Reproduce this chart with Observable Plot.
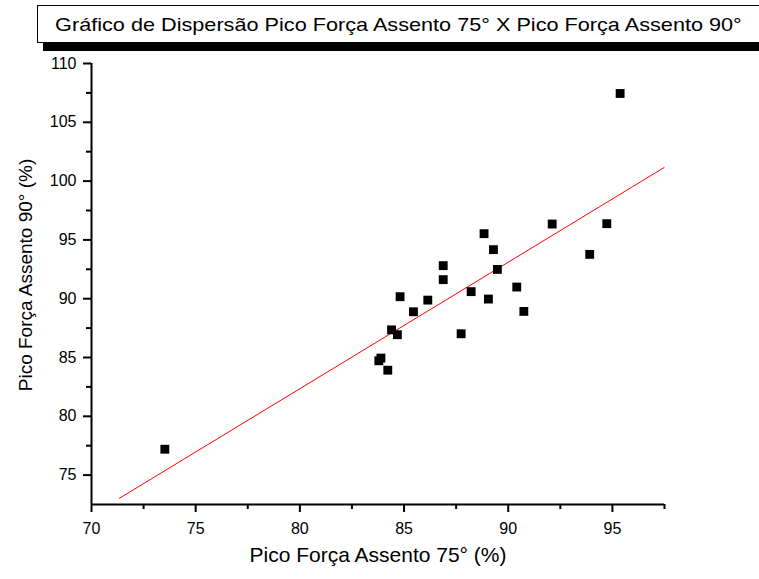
<!DOCTYPE html>
<html><head><meta charset="utf-8">
<script src="https://cdn.jsdelivr.net/npm/d3@7"></script>
<script src="https://cdn.jsdelivr.net/npm/@observablehq/plot@0.6"></script>
<style>
body{margin:0;background:#fff;font-family:"Liberation Sans",Arial,sans-serif;}
#wrap{position:relative;width:759px;height:579px;overflow:hidden;}
#title{position:absolute;left:37px;top:5px;width:730px;height:38px;border:1px solid #000;background:#fff;box-sizing:border-box;font-size:19px;line-height:37px;box-shadow:6px 8px 0 #000;color:#000;}
#title span{position:absolute;left:0;width:722px;text-align:center;transform:scaleX(1.14);transform-origin:365px 50%;}
</style></head>
<body>
<div id="wrap"><div id="chart"></div><div id="title"><span id="tt"></span></div></div>
<script>
const titleText = "Gráfico de Dispersão Pico Força Assento 75° X Pico Força Assento 90°";
const xLabel = "Pico Força Assento 75° (%)";
const yLabel = "Pico Força Assento 90° (%)";
const x75 = [73.52, 83.79, 83.89, 84.22, 84.40, 84.68, 84.81, 85.45, 86.14, 86.88, 86.88, 87.74, 88.22, 88.84, 89.05, 89.29, 89.48, 90.41, 90.75, 92.11, 93.91, 94.73, 95.37];
const y90 = [77.2, 84.72, 84.95, 83.92, 87.35, 86.94, 90.17, 88.89, 89.88, 92.81, 91.62, 87.02, 90.60, 95.53, 89.97, 94.17, 92.49, 90.99, 88.92, 96.35, 93.77, 96.38, 107.45];
const fitX = [71.34, 97.48];
const fitY = [73.03, 101.15];
const xMajor = [70, 75, 80, 85, 90, 95];
const xMinor = [72.5, 77.5, 82.5, 87.5, 92.5, 97.5];
const yMajor = [75, 80, 85, 90, 95, 100, 105, 110];
const yMinor = [77.5, 82.5, 87.5, 92.5, 97.5, 102.5, 107.5];

document.getElementById("tt").textContent = titleText;
const pts = x75.map((x, i) => ({x, y: y90[i]}));
const fit = fitX.map((x, i) => ({x, y: fitY[i]}));

const chart = Plot.plot({
  width: 759, height: 579,
  marginLeft: 91, marginRight: 95, marginTop: 63, marginBottom: 75,
  x: {domain: [70, 97.5]},
  y: {domain: [72.5, 110]},
  style: {fontFamily: "'Liberation Sans', Arial, sans-serif", fontSize: "16px", background: "white", color: "black"},
  marks: [
    Plot.axisX(xMajor, {tickSize: 8, tickPadding: 10, strokeWidth: 2, label: null, fontSize: 16}),
    Plot.axisX(xMinor, {tickSize: 5, text: null, strokeWidth: 2, label: null}),
    Plot.axisY(yMajor, {tickSize: 8, tickPadding: 7, strokeWidth: 2, label: null, fontSize: 16}),
    Plot.axisY(yMinor, {tickSize: 5, text: null, strokeWidth: 2, label: null}),
    Plot.ruleY([72.5], {strokeWidth: 2}),
    Plot.ruleX([70], {strokeWidth: 2}),
    Plot.line(fit, {x: "x", y: "y", stroke: "red", strokeWidth: 1}),
    Plot.dot(pts, {x: "x", y: "y", symbol: "square", r: 5, fill: "black", stroke: null}),
    Plot.text([xLabel], {frameAnchor: "bottom", textAnchor: "middle", dy: 57, fontSize: 21, fill: "black"}),
    Plot.text([yLabel], {frameAnchor: "left", textAnchor: "middle", dx: -66, dy: -9, rotate: -90, fontSize: 19, fill: "black"})
  ]
});
document.getElementById("chart").appendChild(chart);
</script>
</body></html>
